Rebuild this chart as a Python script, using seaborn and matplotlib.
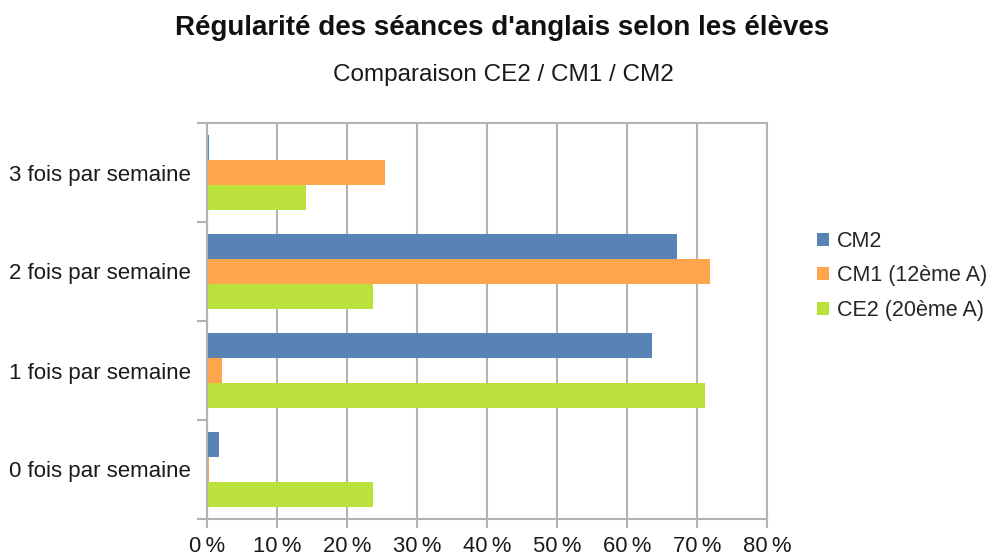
import pandas as pd
import matplotlib
matplotlib.use("Agg")
import matplotlib.pyplot as plt
import seaborn as sns
from matplotlib.ticker import FuncFormatter, FixedLocator

categories = ['3 fois par semaine', '2 fois par semaine', '1 fois par semaine', '0 fois par semaine']
cm2 = [0.3, 67.1, 63.6, 1.65]
cm1 = [25.4, 71.9, 2.1, 0.3]
ce2 = [14.1, 23.7, 71.2, 23.7]
series = ['CM2', 'CM1 (12ème A)', 'CE2 (20ème A)']
colors = ['#5983b5', '#ffa54d', '#bbe23c']

rows = []
for name, vals in zip(series, [cm2, cm1, ce2]):
    for cat, v in zip(categories, vals):
        rows.append({'cat': cat, 'classe': name, 'pct': v})
df = pd.DataFrame(rows)

sns.set_theme(style='white')
plt.rcParams['font.family'] = ['Liberation Sans', 'DejaVu Sans']

fig = plt.figure(figsize=(9.94, 5.58), dpi=100)
ax = fig.add_axes([207 / 994, 1 - 519 / 558, 560 / 994, 396 / 558])

sns.barplot(data=df, x='pct', y='cat', hue='classe', order=categories,
            hue_order=series, palette=colors, orient='h', width=0.75,
            saturation=1, ax=ax, linewidth=0, errorbar=None)

grey = '#b3b3b3'
ax.set_xlim(0, 80)
ax.set_ylim(3.5, -0.5)
ax.xaxis.set_major_locator(FixedLocator(range(0, 81, 10)))
ax.xaxis.set_major_formatter(FuncFormatter(lambda v, p: f'{int(v)}\u202f%'))
ax.grid(axis='x', color=grey, linewidth=1.5)
ax.set_axisbelow(True)
for s in ax.spines.values():
    s.set_visible(True)
    s.set_color(grey)
    s.set_linewidth(1.5)

ax.set_yticks(range(4))
ax.set_yticklabels(categories)
ax.yaxis.set_minor_locator(FixedLocator([-0.5, 0.5, 1.5, 2.5, 3.5]))
ax.tick_params(axis='y', which='major', length=0, pad=11.5, labelsize=16, labelcolor='#1a1a1a')
ax.tick_params(axis='y', which='minor', left=True, length=7, width=1.5, color=grey)
ax.tick_params(axis='x', which='major', bottom=True, length=6.5, width=1.5, color=grey,
               labelsize=15.8, labelcolor='#1a1a1a', pad=5.5)
ax.set_xlabel('')
ax.set_ylabel('')

handles, labels = ax.get_legend_handles_labels()
ax.legend(handles, labels, loc='center left', bbox_to_anchor=(798 / 994, 1 - 276 / 558),
          bbox_transform=fig.transFigure, frameon=False, fontsize=15.5,
          handlelength=0.55, handleheight=0.55, handletextpad=0.35, labelspacing=0.62)

fig.text(502 / 994, 1 - 28 / 558, "Régularité des séances d'anglais selon les élèves",
         ha='center', va='center', fontsize=20, fontweight='bold', color='#111111')
fig.text(503 / 994, 1 - 75 / 558, 'Comparaison CE2 / CM1 / CM2',
         ha='center', va='center', fontsize=17.5, color='#1a1a1a')

fig.savefig('out.png', dpi=100)
